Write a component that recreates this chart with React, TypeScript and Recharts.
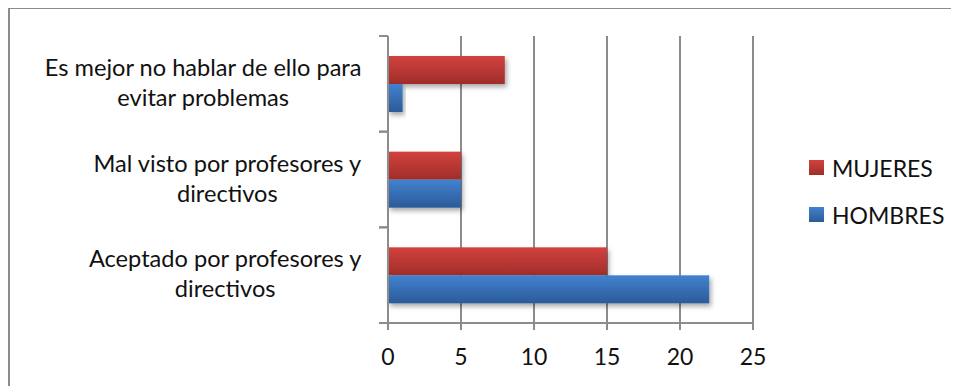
import React from "react";
import { Bar, BarChart, CartesianGrid, XAxis, YAxis } from "recharts";

const categories = [
  "Es mejor no hablar de ello para\nevitar problemas",
  "Mal visto por profesores y\ndirectivos",
  "Aceptado por profesores y\ndirectivos",
];
const mujeres = [8, 5, 15];
const hombres = [1, 5, 22];
const xTicks = [0, 5, 10, 15, 20, 25];

const series = [
  { key: "MUJERES", grad: "gradRed", top: "#d2423e", bottom: "#a02d2a" },
  { key: "HOMBRES", grad: "gradBlue", top: "#4182d0", bottom: "#2b5b98" },
];

const data = categories.map((name, i) => ({
  name,
  MUJERES: mujeres[i],
  HOMBRES: hombres[i],
}));

const FONT = "Lato, 'Open Sans', sans-serif";
const AXIS_COLOR = "#8c8c8c";
const Y_TICK_SIZE = 9;
const Y_TICK_MARGIN = 17;

let canvas: HTMLCanvasElement | null = null;
const textWidth = (text: string, font: string) => {
  if (!canvas) canvas = document.createElement("canvas");
  const ctx = canvas.getContext("2d");
  if (!ctx) return text.length * 11;
  ctx.font = font;
  return ctx.measureText(text).width;
};

const CategoryTick = (props: any) => {
  const { x, y, payload, height } = props;
  const lines = String(payload.value).split("\n");
  const size = 23.6;
  const widths = lines.map((l) => textWidth(l, `${size}px Lato`));
  const center = x - Math.max(...widths) / 2;
  const half = payload.offset || height / categories.length / 2;
  const axisX = x + Y_TICK_MARGIN + Y_TICK_SIZE;
  return (
    <g>
      <line x1={axisX - Y_TICK_SIZE} x2={axisX} y1={y - half} y2={y - half} stroke={AXIS_COLOR} strokeWidth={2} />
      <line x1={axisX - Y_TICK_SIZE} x2={axisX} y1={y + half} y2={y + half} stroke={AXIS_COLOR} strokeWidth={2} />
      {lines.map((l, i) => (
        <text
          key={i}
          x={center}
          y={y - 8 + i * 30}
          textAnchor="middle"
          fontFamily={FONT}
          fontSize={size}
          fill="#111"
        >
          {l}
        </text>
      ))}
    </g>
  );
};

const ValueTick = (props: any) => {
  const { x, y, payload } = props;
  return (
    <text x={x} y={y + 35} textAnchor="middle" fontFamily={FONT} fontSize={23} fill="#111">
      {payload.value}
    </text>
  );
};

const LegendBox = () => (
  <div
    style={{
      position: "absolute",
      left: 801,
      top: 136,
      fontFamily: FONT,
      fontSize: 23,
      color: "#111",
    }}
  >
    {series.map((s) => (
      <div key={s.key} style={{ display: "flex", alignItems: "center", height: 47 }}>
        <span
          style={{
            width: 15,
            height: 15,
            marginRight: 8,
            background: `linear-gradient(${s.top}, ${s.bottom})`,
          }}
        />
        {s.key}
      </div>
    ))}
  </div>
);

const barShape = (grad: string) => (p: any) =>
  <rect x={p.x} y={p.y} width={p.width} height={p.height} fill={`url(#${grad})`} filter="url(#shadow)" />;

export default function App() {
  return (
    <div style={{ position: "relative", width: 951, height: 378, overflow: "hidden" }}>
      <div
        style={{
          position: "absolute",
          left: 0,
          top: -1,
          width: 960,
          height: 400,
          borderTop: `2px solid ${AXIS_COLOR}`,
          borderLeft: `2px solid ${AXIS_COLOR}`,
          boxSizing: "border-box",
        }}
      />
      <BarChart
        width={951}
        height={378}
        data={data}
        layout="vertical"
        margin={{ top: 28, right: 206, bottom: 13, left: 0 }}
        barSize={28}
        barGap={0}
        style={{ position: "absolute", left: 0, top: 0 }}
      >
        <defs>
          {series.map((s) => (
            <linearGradient key={s.grad} id={s.grad} x1="0" y1="0" x2="0" y2="1">
              <stop offset="0%" stopColor={s.top} />
              <stop offset="100%" stopColor={s.bottom} />
            </linearGradient>
          ))}
          <filter id="shadow" x="-10%" y="-20%" width="130%" height="160%">
            <feDropShadow dx="2" dy="3" stdDeviation="2.5" floodColor="#000" floodOpacity="0.35" />
          </filter>
        </defs>
        <CartesianGrid horizontal={false} stroke={AXIS_COLOR} strokeWidth={2} />
        <XAxis
          type="number"
          domain={[0, 25]}
          ticks={xTicks}
          height={50}
          tickSize={7}
          tickMargin={0}
          axisLine={{ stroke: AXIS_COLOR, strokeWidth: 2 }}
          tickLine={{ stroke: AXIS_COLOR, strokeWidth: 2 }}
          tick={<ValueTick />}
          interval={0}
        />
        <YAxis
          type="category"
          dataKey="name"
          width={380}
          tickSize={Y_TICK_SIZE}
          tickMargin={Y_TICK_MARGIN}
          axisLine={{ stroke: AXIS_COLOR, strokeWidth: 2 }}
          tickLine={false}
          tick={<CategoryTick />}
          interval={0}
        />
        {series.map((s) => (
          <Bar
            key={s.key}
            dataKey={s.key}
            fill={s.top}
            shape={barShape(s.grad)}
            isAnimationActive={false}
          />
        ))}
      </BarChart>
      <LegendBox />
    </div>
  );
}
